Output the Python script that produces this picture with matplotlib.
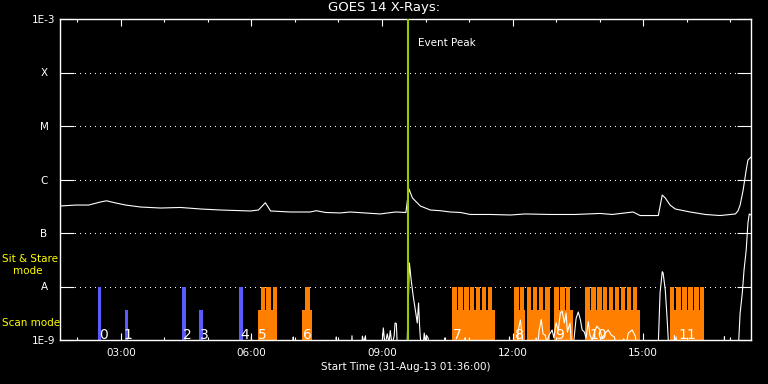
import matplotlib
matplotlib.use('Agg')
import matplotlib.pyplot as plt
from matplotlib.ticker import FixedLocator, MultipleLocator, FuncFormatter, NullLocator

#------------------------------------
# GOES 14 long channel (hours of day, W/m^2)
long_t = [1.61, 1.96, 2.26, 2.53, 2.67, 2.88, 3.11, 3.45, 3.91, 4.37, 4.83, 5.29,
          5.98, 6.16, 6.32, 6.44, 6.89, 7.35, 7.49, 7.70, 8.04, 8.27, 8.96, 9.31,
          9.55, 9.58, 9.62, 9.70, 9.88, 10.11, 10.34, 10.57, 10.80, 11.03, 11.49,
          11.95, 12.29, 12.87, 13.44, 14.01, 14.29, 14.77, 14.93, 15.35, 15.44,
          15.51, 15.62, 15.74, 16.08, 16.43, 16.77, 17.12, 17.18, 17.23, 17.30,
          17.37, 17.41, 17.48]
long_f = [3.2e-7, 3.33e-7, 3.33e-7, 3.8e-7, 4.0e-7, 3.64e-7, 3.33e-7, 3.06e-7, 2.93e-7,
          3.0e-7, 2.81e-7, 2.69e-7, 2.58e-7, 2.69e-7, 3.68e-7, 2.58e-7, 2.47e-7,
          2.47e-7, 2.61e-7, 2.42e-7, 2.37e-7, 2.47e-7, 2.27e-7, 2.47e-7, 2.42e-7,
          3.85e-7, 6.64e-7, 4.51e-7, 3.2e-7, 2.69e-7, 2.61e-7, 2.47e-7, 2.42e-7,
          2.22e-7, 2.22e-7, 2.17e-7, 2.27e-7, 2.22e-7, 2.22e-7, 2.32e-7, 2.22e-7,
          2.47e-7, 2.12e-7, 2.12e-7, 5.13e-7, 4.51e-7, 3.33e-7, 2.81e-7, 2.47e-7,
          2.22e-7, 2.12e-7, 2.27e-7, 2.58e-7, 3.33e-7, 6.37e-7, 1.51e-6, 2.31e-6,
          2.63e-6]

# GOES 14 short channel
short_t = [1.61, 5.99, 6.00, 6.01, 6.95, 6.96, 6.97, 7.94, 7.95, 7.96, 8.29, 8.31, 8.33,
           8.52, 8.55, 8.58, 8.62, 8.65, 8.98, 9.03, 9.07, 9.12, 9.16, 9.19, 9.23, 9.28,
           9.30, 9.33, 9.36, 9.55, 9.58, 9.63, 9.67, 9.72, 9.79, 9.81, 9.84, 9.86, 9.88,
           9.93, 9.97, 10.00, 10.02, 10.06, 10.11, 10.44, 10.45, 10.46, 10.90, 10.91,
           10.92, 11.92, 11.93, 11.94, 12.10, 12.13, 12.18, 12.22, 12.25, 12.50, 12.54,
           12.58, 12.61, 12.66, 12.70, 12.75, 12.79, 12.84, 12.91, 12.95, 13.00, 13.05,
           13.10, 13.14, 13.19, 13.23, 13.26, 13.32, 13.37, 13.42, 13.46, 13.51, 13.56,
           13.60, 13.65, 13.69, 13.74, 13.78, 13.83, 13.88, 13.94, 14.01, 14.06, 14.13,
           14.20, 14.27, 14.34, 14.43, 14.55, 14.62, 14.66, 14.75, 14.82, 14.89, 15.34,
           15.39, 15.44, 15.46, 15.51, 15.55, 15.60, 15.71, 15.72, 15.74, 15.76, 15.78,
           16.86, 16.87, 16.88, 17.18, 17.23, 17.28, 17.32, 17.37, 17.41, 17.44, 17.48]
short_f = [5e-10, 5e-10, 1.15e-9, 5e-10, 5e-10, 1.14e-9, 5e-10, 5e-10, 1.14e-9, 5e-10,
           5e-10, 1.2e-9, 5e-10, 5e-10, 1.18e-9, 9e-10, 1.2e-9, 5e-10, 5e-10, 1.68e-9,
           8e-10, 1.3e-9, 9e-10, 1.5e-9, 8e-10, 1.2e-9, 2.08e-9, 2.03e-9, 5e-10, 5e-10,
           1.0e-9, 2.75e-8, 1.32e-8, 6.37e-9, 2.69e-9, 2.08e-9, 4.92e-9, 2.08e-9, 1.14e-9,
           5e-10, 1.35e-9, 9e-10, 1.23e-9, 1.09e-9, 5e-10, 5e-10, 1.1e-9, 5e-10, 5e-10,
           1.1e-9, 5e-10, 5e-10, 1.14e-9, 5e-10, 5e-10, 1.5e-9, 2.37e-9, 1.2e-9, 5e-10,
           5e-10, 1.09e-9, 8e-10, 1.5e-9, 2.42e-9, 1.3e-9, 1.23e-9, 9e-10, 1.23e-9,
           1.54e-9, 1.1e-9, 2.08e-9, 1.5e-9, 3.2e-9, 3.49e-9, 2.08e-9, 3.2e-9, 1.41e-9,
           2.08e-9, 5e-10, 1.2e-9, 2.53e-9, 3.34e-9, 2.37e-9, 1.54e-9, 1.41e-9, 1.09e-9,
           2.2e-9, 1.23e-9, 1.0e-9, 1.41e-9, 1.82e-9, 1.54e-9, 1.09e-9, 1.35e-9, 1.54e-9,
           1.23e-9, 1.14e-9, 5e-10, 1.05e-9, 9e-10, 1.35e-9, 1.54e-9, 1.18e-9, 5e-10,
           5e-10, 7.56e-9, 1.89e-8, 1.79e-8, 8.6e-9, 2.69e-9, 5e-10, 5e-10, 1.2e-9, 8e-10,
           1.14e-9, 5e-10, 5e-10, 1.15e-9, 5e-10, 5e-10, 3.2e-9, 7.56e-9, 2.03e-8,
           4.81e-8, 1.54e-7, 2.27e-7, 2.17e-7]
#------------------------------------

#------------------------------------
# observations
stare_t = [2.51, 3.12, 4.45, 4.84, 5.76]
stare_top = [1e-8, 3.6e-9, 1e-8, 3.6e-9, 1e-8]

scan_start = [6.14, 7.17, 10.62, 12.04, 12.33, 12.96, 13.67, 15.61]
scan_end = [6.59, 7.40, 11.60, 12.29, 12.85, 13.39, 14.94, 16.39]
scan_spikes = [6.21, 6.34, 6.49, 7.24,
               10.62, 10.75, 10.89, 11.02, 11.16, 11.30, 11.43,
               12.04, 12.17, 12.33, 12.47, 12.61, 12.75,
               12.96, 13.10, 13.23,
               13.67, 13.81, 13.95, 14.08, 14.21, 14.35, 14.49, 14.63, 14.77,
               15.61, 15.76, 15.90, 16.04, 16.18, 16.31]
scan_level = 3.6e-9
stare_level = 1e-8

obs_label_t = [2.60, 3.17, 4.53, 4.92, 5.84, 6.25, 7.29, 10.73, 12.15, 13.07, 13.97, 16.01]
obs_labels = ['0', '1', '2', '3', '4', '5', '6', '7', '8', '9', '10', '11']

event_peak = 9.60

ytick_vals = [1e-9, 1e-8, 1e-7, 1e-6, 1e-5, 1e-4, 1e-3]
ytick_labels = ['1E-9', 'A', 'B', 'C', 'M', 'X', '1E-3']
xtick_hours = [3, 6, 9, 12, 15]
#------------------------------------

fig = plt.figure(figsize=(7.68, 3.84), dpi=100, facecolor='black')
ax = fig.add_axes([60/768, 1-340/384, 691/768, 321/384], facecolor='black')
ax.set_yscale('log')
ax.set_xlim(1.6, 17.48)
ax.set_ylim(1e-9, 1e-3)

floor = 1e-10
ax.bar(stare_t, [h - floor for h in stare_top], bottom=floor, width=0.07,
       color='#5a5aff', zorder=1)
ax.bar(scan_start, [scan_level - floor]*len(scan_start), bottom=floor,
       width=[e - s for s, e in zip(scan_start, scan_end)], align='edge',
       color='#ff8000', zorder=1)
ax.bar(scan_spikes, [stare_level - floor]*len(scan_spikes), bottom=floor,
       width=0.101, align='edge', color='#ff8000', zorder=1)

ax.plot(long_t, long_f, color='white', lw=0.8, zorder=3)
ax.plot(short_t, short_f, color='white', lw=0.8, zorder=3)

for t, s in zip(obs_label_t, obs_labels):
	ax.text(t, 1.04e-9, s, color='white', fontsize=10, ha='center', va='baseline', zorder=4)

ax.axvline(event_peak, color='#99cc00', lw=1.5, zorder=5)
ax.text(event_peak + 0.23, 3.1e-4, 'Event Peak', color='white', fontsize=7.5,
        ha='left', va='baseline')

# grid
for v in ytick_vals[1:-1]:
	ax.axhline(v, color='white', lw=0.72, ls=(0, (1, 5)), antialiased=False, zorder=0.5)

# axes
for sp in ax.spines.values():
	sp.set_color('white')
	sp.set_linewidth(1.0)

ax.yaxis.set_major_locator(FixedLocator(ytick_vals))
ax.yaxis.set_minor_locator(NullLocator())
ax.set_yticklabels(ytick_labels)
ax.tick_params(axis='y', which='major', direction='in', length=10, width=0.8,
               colors='white', left=True, right=True, labelsize=7.5, pad=11.5)
for lab in ax.get_yticklabels():
	lab.set_horizontalalignment('center')

ax.xaxis.set_major_locator(FixedLocator(xtick_hours))
ax.xaxis.set_minor_locator(MultipleLocator(1))
ax.xaxis.set_major_formatter(FuncFormatter(lambda v, p: '%02d:00' % int(round(v))))
ax.tick_params(axis='x', which='major', direction='in', length=5, width=0.8,
               colors='white', top=True, bottom=True, labelsize=7.5, pad=6)
ax.tick_params(axis='x', which='minor', direction='in', length=2.5, width=0.8,
               colors='white', top=True, bottom=True)

ax.set_xlabel('Start Time (31-Aug-13 01:36:00)', color='white', fontsize=7.5, labelpad=3)
fig.text(0.5, 1-8/384, 'GOES 14 X-Rays:', color='white', fontsize=9.5, ha='center', va='center')

fig.text(2/768, 1-258.5/384, 'Sit & Stare', color='#ffff00', fontsize=7.5, ha='left', va='center')
fig.text(13/768, 1-271/384, 'mode', color='#ffff00', fontsize=7.5, ha='left', va='center')
fig.text(2/768, 1-323.5/384, 'Scan mode', color='#ffff00', fontsize=7.5, ha='left', va='center')

fig.savefig('out.png', dpi=100, facecolor='black')
